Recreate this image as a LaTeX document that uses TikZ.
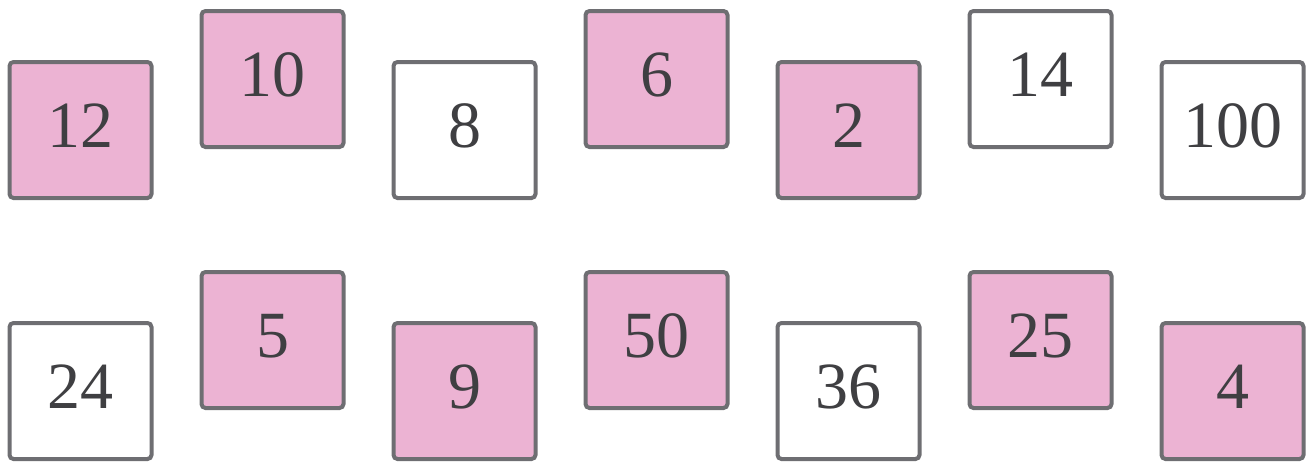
\documentclass[tikz,border=0pt]{standalone}
\usepackage{fontspec}
\setmainfont{Liberation Serif}
\definecolor{cardpink}{HTML}{ECB3D3}
\definecolor{cardedge}{HTML}{6E6E72}
\definecolor{cardtext}{HTML}{3F3F42}
\tikzset{
  card/.style={draw=cardedge,line width=4pt,rounded corners=4pt,
    minimum width=142pt,minimum height=136pt,inner sep=0pt,text depth=8pt,
    text=cardtext,font=\fontsize{66}{70}\selectfont},
  pinkcard/.style={card,fill=cardpink},
  whitecard/.style={card,fill=white}
}

\begin{document}
\begin{tikzpicture}[x=1pt,y=-1pt]
\useasboundingbox (0,0) rectangle (1311,461);
% top row
\node[pinkcard]  (c12)  at (80.5,130) {12};
\node[pinkcard]  (c10)  at (272.5,79) {10};
\node[whitecard] (c8)   at (464.5,130) {8};
\node[pinkcard]  (c6)   at (656.5,79) {6};
\node[pinkcard]  (c2)   at (848.5,130) {2};
\node[whitecard] (c14)  at (1040.5,79) {14};
\node[whitecard] (c100) at (1232.5,130) {100};
% bottom row
\node[whitecard] (c24)  at (80.5,391) {24};
\node[pinkcard]  (c5)   at (272.5,340) {5};
\node[pinkcard]  (c9)   at (464.5,391) {9};
\node[pinkcard]  (c50)  at (656.5,340) {50};
\node[whitecard] (c36)  at (848.5,391) {36};
\node[pinkcard]  (c25)  at (1040.5,340) {25};
\node[pinkcard]  (c4)   at (1232.5,391) {4};
\end{tikzpicture}
\end{document}
